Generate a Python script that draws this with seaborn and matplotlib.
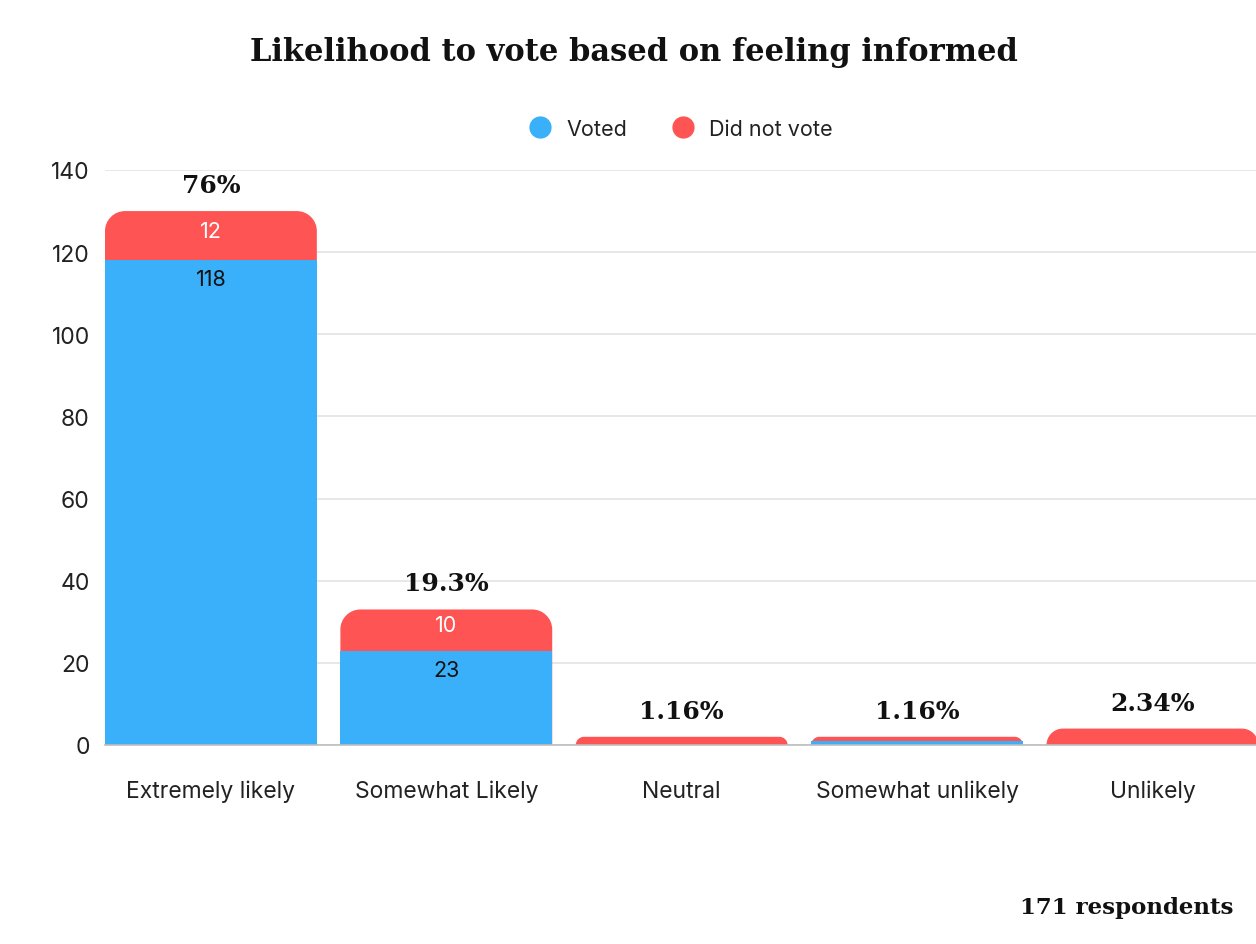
import matplotlib
matplotlib.use("Agg")
import matplotlib.pyplot as plt
import seaborn as sns
import pandas as pd
from matplotlib.path import Path
from matplotlib.patches import PathPatch
from matplotlib.lines import Line2D

# data
categories = ["Extremely likely", "Somewhat Likely", "Neutral", "Somewhat unlikely", "Unlikely"]
voted = [118, 23, 0, 1, 0]
did_not_vote = [12, 10, 2, 1, 4]
pct_labels = ["76%", "19.3%", "1.16%", "1.16%", "2.34%"]
voted_labels = ["118", "23", "", "", ""]
not_labels = ["12", "10", "", "", ""]

BLUE = "#3AB0FA"
RED = "#FF5454"

df = pd.DataFrame({"category": categories, "voted": voted, "not_voted": did_not_vote})
df["total"] = df["voted"] + df["not_voted"]

sns.set_style("white")
plt.rcParams["font.family"] = ["Inter", "DejaVu Sans"]

fig = plt.figure(figsize=(12.56, 9.45), dpi=100)
ax = fig.add_axes([105 / 1256, 1 - 746 / 945, 1 - 105 / 1256, (746 - 171) / 945])

# red = total height, blue drawn over it
sns.barplot(data=df, x="category", y="total", color=RED, width=0.9, saturation=1,
            linewidth=0, ax=ax)
sns.barplot(data=df, x="category", y="voted", color=BLUE, width=0.9, saturation=1,
            linewidth=0, ax=ax)

ax.set_xlim(-0.45, 4.44)
ax.set_ylim(0, 140)
ax.set_yticks(range(0, 141, 20))

# round the top corners of the red bars
sx = 235.25  # pixels per x unit
sy = 575 / 140  # pixels per y unit
r_px = 20
red_patches = ax.patches[:len(categories)]
for p in red_patches:
    x0, y0 = p.get_x(), p.get_y()
    w, h = p.get_width(), p.get_height()
    rpx = min(r_px, h * sy)
    rx, ry = rpx / sx, rpx / sy
    k = 0.5523
    x1, top = x0 + w, y0 + h
    verts = [
        (x0, y0), (x0, top - ry),
        (x0, top - ry + k * ry), (x0 + rx - k * rx, top), (x0 + rx, top),
        (x1 - rx, top),
        (x1 - rx + k * rx, top), (x1, top - ry + k * ry), (x1, top - ry),
        (x1, y0), (x0, y0),
    ]
    codes = [Path.MOVETO, Path.LINETO,
             Path.CURVE4, Path.CURVE4, Path.CURVE4,
             Path.LINETO,
             Path.CURVE4, Path.CURVE4, Path.CURVE4,
             Path.LINETO, Path.CLOSEPOLY]
    p.remove()
    ax.add_patch(PathPatch(Path(verts, codes), facecolor=RED, edgecolor="none", zorder=1))

for p in ax.patches:
    if not isinstance(p, PathPatch):
        p.set_zorder(2)

ax.set_axisbelow(True)
ax.grid(axis="y", color="#E3E3E3", linewidth=1.2)
ax.grid(axis="x", visible=False)
for s in ["top", "right", "left"]:
    ax.spines[s].set_visible(False)
ax.spines["bottom"].set_color("#BDBDBD")
ax.spines["bottom"].set_linewidth(1.2)
ax.tick_params(axis="both", length=0, labelsize=16.5, colors="#222222")
ax.tick_params(axis="x", pad=25)
ax.tick_params(axis="y", pad=11)
ax.set_xlabel("")
ax.set_ylabel("")

# value labels
for i, row in df.iterrows():
    if not_labels[i]:
        ax.annotate(not_labels[i], (i, row["voted"] + row["not_voted"] / 2), xytext=(0, 5),
                    textcoords="offset pixels", ha="center", va="center",
                    color="white", fontsize=15.5, zorder=5)
    if voted_labels[i]:
        ax.annotate(voted_labels[i], (i, row["voted"]), xytext=(0, -19), textcoords="offset pixels",
                    ha="center", va="center", color="#111111", fontsize=15.5, zorder=5)
    ax.annotate(pct_labels[i], (i, row["total"]), xytext=(0, 26), textcoords="offset pixels",
                ha="center", va="center", fontsize=18, fontweight="bold",
                family="DejaVu Serif", color="#111111", zorder=5, annotation_clip=False)

fig.text(0.505, 1 - 52 / 945, "Likelihood to vote based on feeling informed", ha="center", va="center",
         fontsize=22, fontweight="bold", family="DejaVu Serif", color="#111111")
fig.text(1233 / 1256, 1 - 908 / 945, "171 respondents", ha="right", va="center",
         fontsize=16.5, fontweight="bold", family="DejaVu Serif", color="#111111")

handles = [Line2D([], [], marker="o", linestyle="", markersize=15, color=BLUE),
           Line2D([], [], marker="o", linestyle="", markersize=15, color=RED)]
fig.legend(handles, ["Voted", "Did not vote"], loc="center", bbox_to_anchor=(0.538, 1 - 130 / 945),
           ncol=2, frameon=False, fontsize=15.5, handletextpad=0.2, columnspacing=1.6,
           labelcolor="#222222")

fig.savefig("out.png", dpi=100)
